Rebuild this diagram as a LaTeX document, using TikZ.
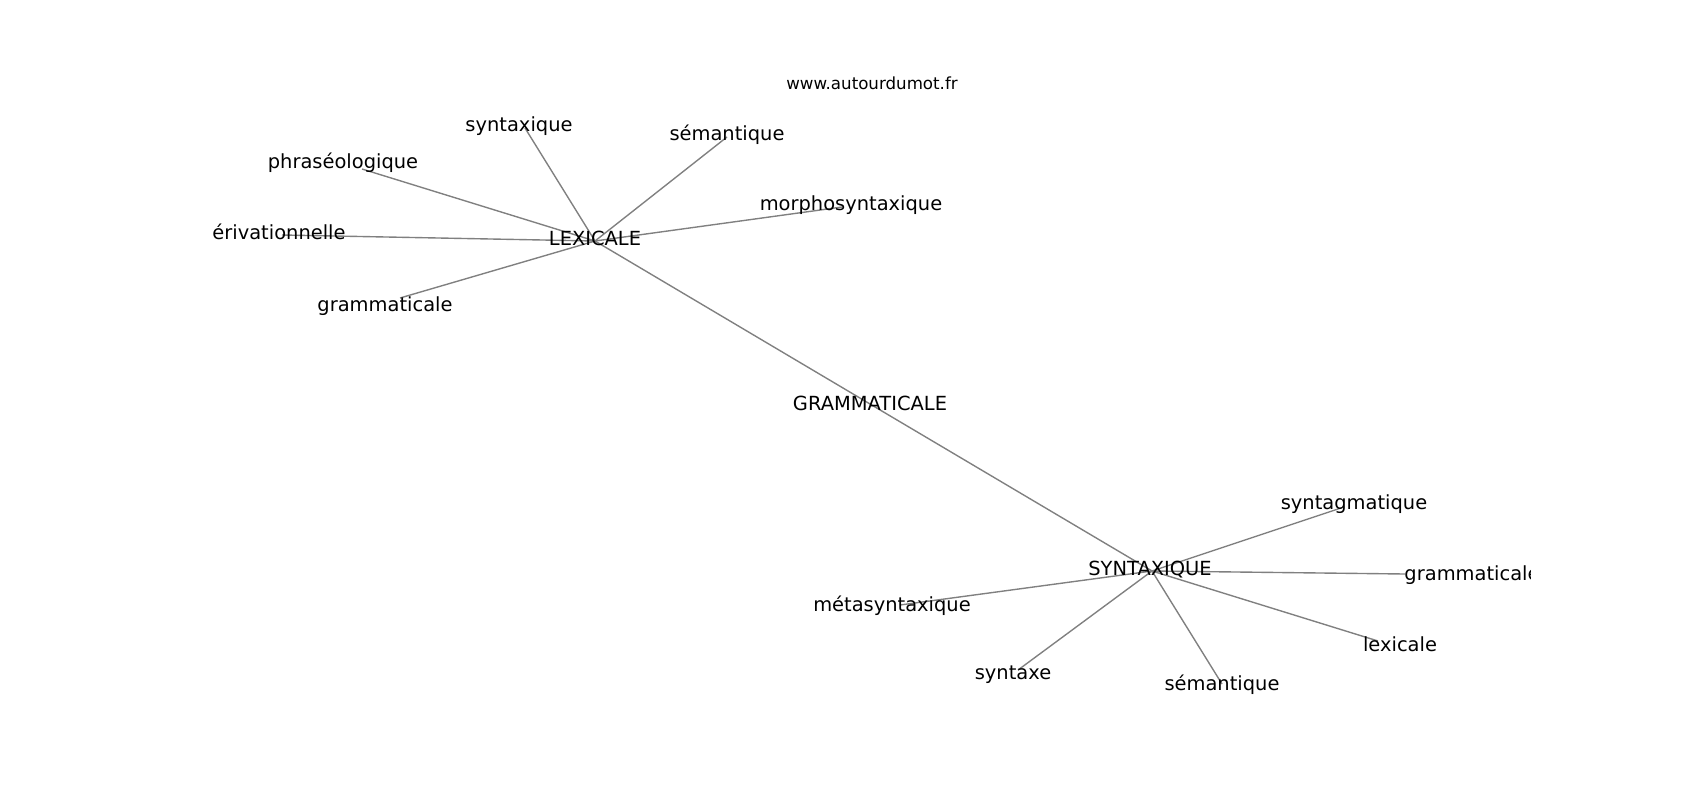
\documentclass[tikz,border=0pt]{standalone}
\usepackage{fontspec}
\setmainfont{DejaVu Sans}

\begin{document}
\begin{tikzpicture}[x=0.72pt,y=-0.72pt,
  every node/.style={inner sep=0pt,text height=0.76em,text depth=0.24em,
    font=\fontsize{14}{17}\selectfont},
  link/.style={draw=gray,line width=1pt},
  wwwnode/.style={font=\fontsize{12}{14}\selectfont}
]
\useasboundingbox (0,0) rectangle (1700,800);

% the vertices
\coordinate (lex) at (595,241);
\coordinate (gra) at (870,404);
\coordinate (syn) at (1152,571);

% the vertices round LEXICALE
\foreach \i/\vx/\vy in {1/525/128,2/727/137,3/362/169,4/842/207,5/282/235,6/400/298}
  \coordinate (l\i) at (\vx,\vy);
% the vertices round SYNTAXIQUE
\foreach \i/\vx/\vy in {1/1344/507,2/1405/574,3/1378/641,4/1222/684,5/1018/670,6/900/605}
  \coordinate (s\i) at (\vx,\vy);

% the edges
\draw[link] (lex) -- (gra) -- (syn);
\foreach \i in {1,...,6} {
  \draw[link] (lex) -- (l\i);
  \draw[link] (syn) -- (s\i);
}

% the labels, cut at the frame
\begin{scope}
\clip (212.5,96) rectangle (1530,712);
\node (lex-t) at (595,242) {LEXICALE};
\node (gra-t) at (870,407) {GRAMMATICALE};
\node (syn-t) at (1150,572) {SYNTAXIQUE};

\node (l1-t) at (519,128) {syntaxique};
\node (l2-t) at (727,137) {sémantique};
\node (l3-t) at (343,165) {phraséologique};
\node (l4-t) at (851,207) {morphosyntaxique};
\node (l5-t) at (279,236) {érivationnelle};
\node (l6-t) at (385,308) {grammaticale};

\node (s1-t) at (1354,506) {syntagmatique};
\node (s2-t) at (1472,577) {grammaticale};
\node (s3-t) at (1400,648) {lexicale};
\node (s4-t) at (1222,687) {sémantique};
\node (s5-t) at (1013,676) {syntaxe};
\node (s6-t) at (892,608) {métasyntaxique};
\end{scope}

% the site
\node[wwwnode] (www) at (872,86) {www.autourdumot.fr};
\end{tikzpicture}
\end{document}
